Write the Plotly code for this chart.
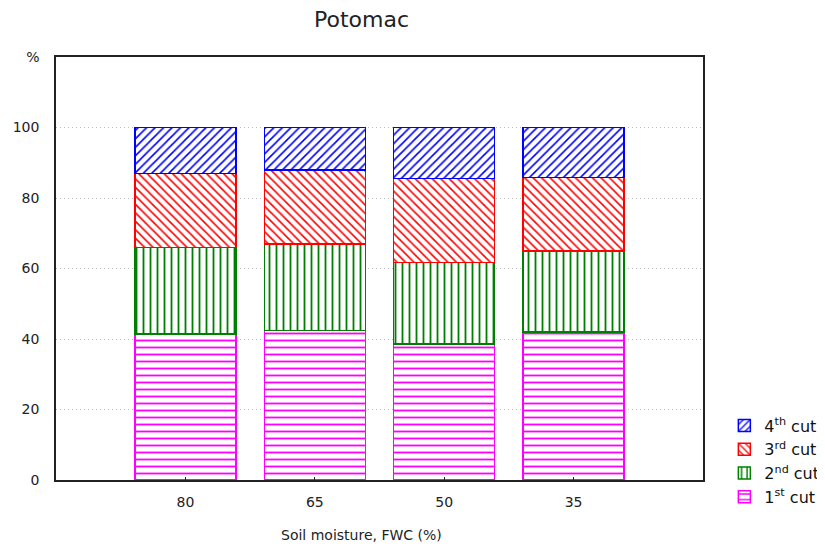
import plotly.graph_objects as go

categories = ["80", "65", "50", "35"]
cut1 = [41.4, 42.4, 38.6, 42.0]
cut2 = [24.6, 24.5, 23.1, 23.0]
cut3 = [20.9, 21.1, 23.8, 20.8]
cut4 = [13.1, 12.0, 14.5, 14.2]
series_names = ["1<sup>st</sup> cut", "2<sup>nd</sup> cut", "3<sup>rd</sup> cut", "4<sup>th</sup> cut"]
y_tick_vals = [0, 20, 40, 60, 80, 100, 120]
y_tick_text = ["0", "20", "40", "60", "80", "100", "%"]

colors = ["#ff00ff", "#008000", "#ff0000", "#0000ff"]
shapes = ["-", "|", "\\", "/"]
sizes = [7, 7, 6, 6]

FONT = "DejaVu Sans"
# page body has an 8px margin; figure is sized/offset to compensate
FW, FH = 817, 539
ML, MR, MT, MB = 48, 122, 49, 67

fig = go.Figure()
for vals, name, c, s, sz in zip([cut1, cut2, cut3, cut4], series_names, colors, shapes, sizes):
    fig.add_trace(go.Bar(
        x=categories, y=vals, name=name, width=0.78,
        marker=dict(color="white", line=dict(color=c, width=1.5),
                    pattern=dict(shape=s, fgcolor=c, bgcolor="white", size=sz,
                                 solidity=0.26, fgopacity=1)),
    ))

fig.update_layout(
    barmode="stack",
    width=FW, height=FH,
    margin=dict(l=ML, r=MR, t=MT, b=MB, autoexpand=False),
    paper_bgcolor="white", plot_bgcolor="white",
    font=dict(family=FONT, size=14, color="#222"),
    showlegend=True,
    legend=dict(x=1.033, y=0.169, xanchor="left", yanchor="top", traceorder="reversed",
                font=dict(family=FONT, size=16, color="#111"), bgcolor="rgba(0,0,0,0)",
                itemwidth=30, tracegroupgap=0),
    annotations=[
        dict(text="Potomac", x=353, y=12, xref="paper", yref="paper", showarrow=False,
             xanchor="center", yanchor="middle",
             font=dict(family=FONT, size=22, color="#222")),
        dict(text="Soil moisture, FWC (%)", x=353, y=527, xref="paper", yref="paper", showarrow=False,
             xanchor="center", yanchor="middle",
             font=dict(family=FONT, size=14, color="#222")),
    ],
)
W = FW - ML - MR
H = FH - MT - MB
for a in fig.layout.annotations:
    a.x = (a.x - ML) / W
    a.y = (FH - MB - a.y) / H

fig.update_xaxes(type="category", range=[-1, 4], showgrid=False,
                 showline=True, linecolor="#222", linewidth=1.5, mirror=True,
                 ticks="inside", ticklen=3, tickcolor="#222", ticklabelstandoff=8,
                 tickfont=dict(family=FONT, size=14, color="#222"))
fig.update_yaxes(range=[0, 120], tickvals=y_tick_vals, ticktext=y_tick_text,
                 showgrid=True, gridcolor="#bdbdbd", griddash="1px,3px", gridwidth=1,
                 showline=True, linecolor="#222", linewidth=1.5, mirror=True,
                 ticks="", ticklabelstandoff=12, zeroline=False,
                 tickfont=dict(family=FONT, size=14, color="#222"))

fig.write_html("out.html")
